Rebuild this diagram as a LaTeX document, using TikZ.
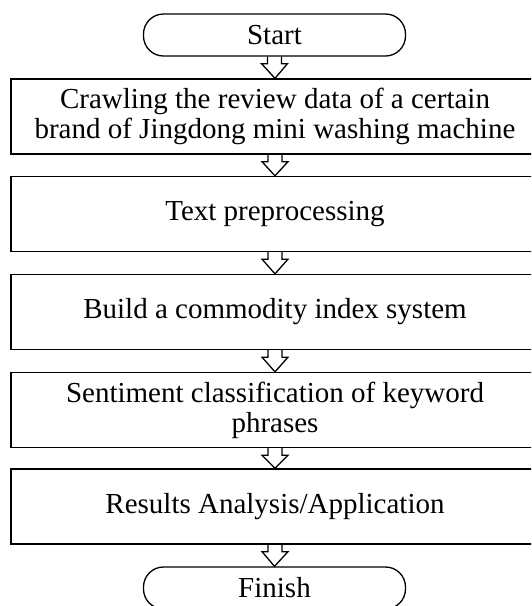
\documentclass[tikz,border=0pt]{standalone}
\usepackage{fontspec}
\setmainfont{Liberation Serif}
\usetikzlibrary{calc}

% hollow block arrow from the bottom of #1 to the top of #2
\newcommand{\hollowarrow}[2]{%
  \draw[line width=1.3pt,line join=miter]
    ($(#1.south)+(-7,0)$) -- ++(0,7) -- ++(-6,0) -- (#2.north)
    -- ($(#1.south)+(13,7)$) -- ++(-6,0) -- ++(0,-7);}

\begin{document}
\begin{tikzpicture}
  [x=1pt,y=-1pt,
   every node/.style={draw,line width=1.3pt,align=center,inner sep=0pt,
     font=\fontsize{29}{30}\selectfont},
   terminal/.style={rounded corners=20pt,minimum width=262pt,minimum height=42pt},
   stepbox/.style={minimum width=528pt,minimum height=75pt}]
  \useasboundingbox (0,0) rectangle (531,606);
  \clip (0,0) rectangle (531,606);

  \node[terminal] (start) at (274.5,35) {Start};
  \node[stepbox] (crawl) at (275,116.5) {Crawling the review data of a certain\\brand of Jingdong mini washing machine};
  \node[stepbox] (prep) at (275,214) {Text preprocessing};
  \node[stepbox] (index) at (275,312) {Build a commodity index system};
  \node[stepbox] (senti) at (275,410) {Sentiment classification of keyword\\phrases};
  \node[stepbox] (result) at (275,506.5) {Results Analysis/Application};
  \node[terminal] (finish) at (274.5,588) {Finish};

  \foreach \from/\to in {start/crawl,crawl/prep,prep/index,index/senti,senti/result,result/finish}
    \hollowarrow{\from}{\to};

\end{tikzpicture}
\end{document}
